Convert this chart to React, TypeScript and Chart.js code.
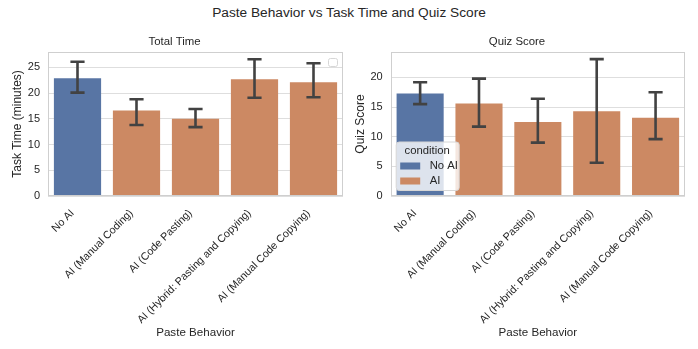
import React, { useEffect, useRef } from 'react';
import { Chart, registerables } from 'chart.js';
Chart.register(...registerables);

const categories = ['No AI', 'AI (Manual Coding)', 'AI (Code Pasting)', 'AI (Hybrid: Pasting and Copying)', 'AI (Manual Code Copying)'];
const conditions = ['No AI', 'AI', 'AI', 'AI', 'AI'];
const timeMean = [22.9, 16.6, 15.0, 22.7, 22.1];
const timeLow = [20.1, 13.8, 13.4, 19.1, 19.2];
const timeHigh = [26.1, 18.8, 16.9, 26.6, 25.8];
const quizMean = [17.3, 15.6, 12.5, 14.3, 13.2];
const quizLow = [15.5, 11.7, 9.0, 5.6, 9.6];
const quizHigh = [19.2, 19.8, 16.4, 23.1, 17.5];
const timeMax = 28.0;
const quizMax = 24.3;
const legendTitle = 'condition';
const legendLabels = ['No AI', 'AI'];

const FONT = "'Liberation Sans', Arial, Helvetica, sans-serif";
const TEXT = '#262626';
const COLORS: Record<string, string> = { 'No AI': '#5875a4', 'AI': '#cc8963' };
const GRID = '#dedede';
const FRAME = '#cfcfcf';
const ERR = '#424242';

const framePlugin = {
  id: 'frame',
  afterDatasetsDraw(chart: any) {
    const { ctx, chartArea: ca } = chart;
    ctx.save();
    ctx.strokeStyle = FRAME;
    ctx.lineWidth = 1;
    ctx.strokeRect(Math.round(ca.left) + 0.5, Math.round(ca.top) + 0.5, Math.round(ca.right - ca.left) - 1, Math.round(ca.bottom - ca.top) - 1);
    const o = chart.options.plugins.errbars;
    const meta = chart.getDatasetMeta(0);
    const ys = chart.scales.y;
    ctx.strokeStyle = ERR;
    ctx.lineWidth = 2.6;
    ctx.lineCap = 'butt';
    meta.data.forEach((bar: any, i: number) => {
      const x = bar.x;
      const cw = bar.width * 0.3;
      const yl = ys.getPixelForValue(o.low[i]);
      const yh = ys.getPixelForValue(o.high[i]);
      ctx.beginPath();
      ctx.moveTo(x, yl);
      ctx.lineTo(x, yh);
      ctx.moveTo(x - cw / 2, yl);
      ctx.lineTo(x + cw / 2, yl);
      ctx.moveTo(x - cw / 2, yh);
      ctx.lineTo(x + cw / 2, yh);
      ctx.stroke();
    });
    ctx.restore();
  },
  afterDraw(chart: any) {
    const { ctx, chartArea: ca } = chart;
    const o = chart.options.plugins.errbars;
    ctx.save();
    if (o.legend === 'empty') {
      const w = 9, h = 8;
      const x = ca.right - 6 - w, y = ca.top + 6;
      ctx.fillStyle = 'rgba(255,255,255,0.8)';
      ctx.strokeStyle = '#d6d6d6';
      ctx.lineWidth = 1;
      ctx.beginPath();
      ctx.roundRect(x + 0.5, y + 0.5, w, h, 2);
      ctx.fill();
      ctx.stroke();
    } else if (o.legend === 'full') {
      const w = 63, h = 48.5;
      const x = ca.left + 5, y = ca.bottom - 6 - h;
      ctx.fillStyle = 'rgba(255,255,255,0.8)';
      ctx.strokeStyle = '#d6d6d6';
      ctx.lineWidth = 1;
      ctx.beginPath();
      ctx.roundRect(x + 0.5, y + 0.5, w, h, 3);
      ctx.fill();
      ctx.stroke();
      ctx.fillStyle = TEXT;
      ctx.font = `11.3px ${FONT}`;
      ctx.textAlign = 'center';
      ctx.textBaseline = 'middle';
      ctx.fillText(legendTitle, x + w / 2, y + 9.5);
      legendLabels.forEach((lab, i) => {
        const cy = y + 24.5 + i * 15;
        ctx.fillStyle = COLORS[lab];
        ctx.fillRect(x + 4.5, cy - 3.5, 20, 7);
        ctx.fillStyle = TEXT;
        ctx.textAlign = 'left';
        ctx.fillText(lab, x + 34, cy);
      });
    }
    ctx.restore();
  },
};

function makeConfig(opts: any) {
  return {
    type: 'bar',
    data: {
      labels: categories,
      datasets: [{
        data: opts.mean,
        backgroundColor: conditions.map((c) => COLORS[c]),
        borderWidth: 0,
        barPercentage: 0.8,
        categoryPercentage: 1,
      }],
    },
    options: {
      responsive: false,
      animation: false,
      devicePixelRatio: 1,
      layout: { padding: { left: opts.padLeft, right: opts.padRight, top: 0, bottom: 5 } },
      plugins: {
        legend: { display: false },
        tooltip: { enabled: false },
        title: {
          display: true,
          text: opts.title,
          color: TEXT,
          font: { family: FONT, size: 11.4, weight: 'normal' },
          padding: { top: 35.5, bottom: 2.8 },
        },
        errbars: { low: opts.low, high: opts.high, legend: opts.legend },
      },
      scales: {
        x: {
          grid: { display: false, drawTicks: false },
          border: { display: false },
          ticks: {
            color: TEXT,
            font: { family: FONT, size: 10.7 },
            minRotation: 45,
            maxRotation: 45,
            autoSkip: false,
            padding: 11,
            labelOffset: -5,
          },
          title: {
            display: true,
            text: 'Paste Behavior',
            color: TEXT,
            font: { family: FONT, size: 11.6 },
            padding: { top: 4, bottom: 4 },
          },
          afterFit: (s: any) => { s.height = 148; },
        },
        y: {
          min: 0,
          max: opts.max,
          grid: { color: GRID, lineWidth: 1, drawTicks: false },
          border: { display: false },
          ticks: {
            stepSize: 5,
            color: TEXT,
            font: { family: FONT, size: 11 },
            padding: 8,
          },
          afterBuildTicks: (s: any) => { s.ticks = s.ticks.filter((t: any) => t.value % 5 === 0); },
          title: {
            display: true,
            text: opts.yTitle,
            color: TEXT,
            font: { family: FONT, size: 12 },
            padding: { top: 4, bottom: 4 },
          },
          afterFit: (s: any) => { s.width = opts.yWidth; },
        },
      },
    },
    plugins: [framePlugin],
  };
}

function Panel(props: { opts: any; left: number }) {
  const ref = useRef<HTMLCanvasElement>(null);
  useEffect(() => {
    const chart = new Chart(ref.current as HTMLCanvasElement, makeConfig(props.opts) as any);
    return () => chart.destroy();
  }, []);
  return (
    <canvas
      ref={ref}
      width={349}
      height={349}
      style={{ position: 'absolute', left: props.left, top: 0, width: 349, height: 349 }}
    />
  );
}

export default function App() {
  const leftOpts = {
    mean: timeMean, low: timeLow, high: timeHigh, max: timeMax,
    title: 'Total Time', yTitle: 'Task Time (minutes)', yWidth: 42, padLeft: 6, padRight: 6, legend: 'empty',
  };
  const rightOpts = {
    mean: quizMean, low: quizLow, high: quizHigh, max: quizMax,
    title: 'Quiz Score', yTitle: 'Quiz Score', yWidth: 41.7, padLeft: 0, padRight: 13, legend: 'full',
  };
  return (
    <div style={{ position: 'fixed', left: 0, top: 0, width: 698, height: 349, background: '#ffffff', overflow: 'hidden' }}>
      <div style={{ position: 'absolute', left: 0, top: 0, width: 698, height: 26, lineHeight: '26px', textAlign: 'center', fontFamily: FONT, fontSize: 13.7, color: TEXT }}>
        Paste Behavior vs Task Time and Quiz Score
      </div>
      <Panel opts={leftOpts} left={0} />
      <Panel opts={rightOpts} left={349} />
    </div>
  );
}
